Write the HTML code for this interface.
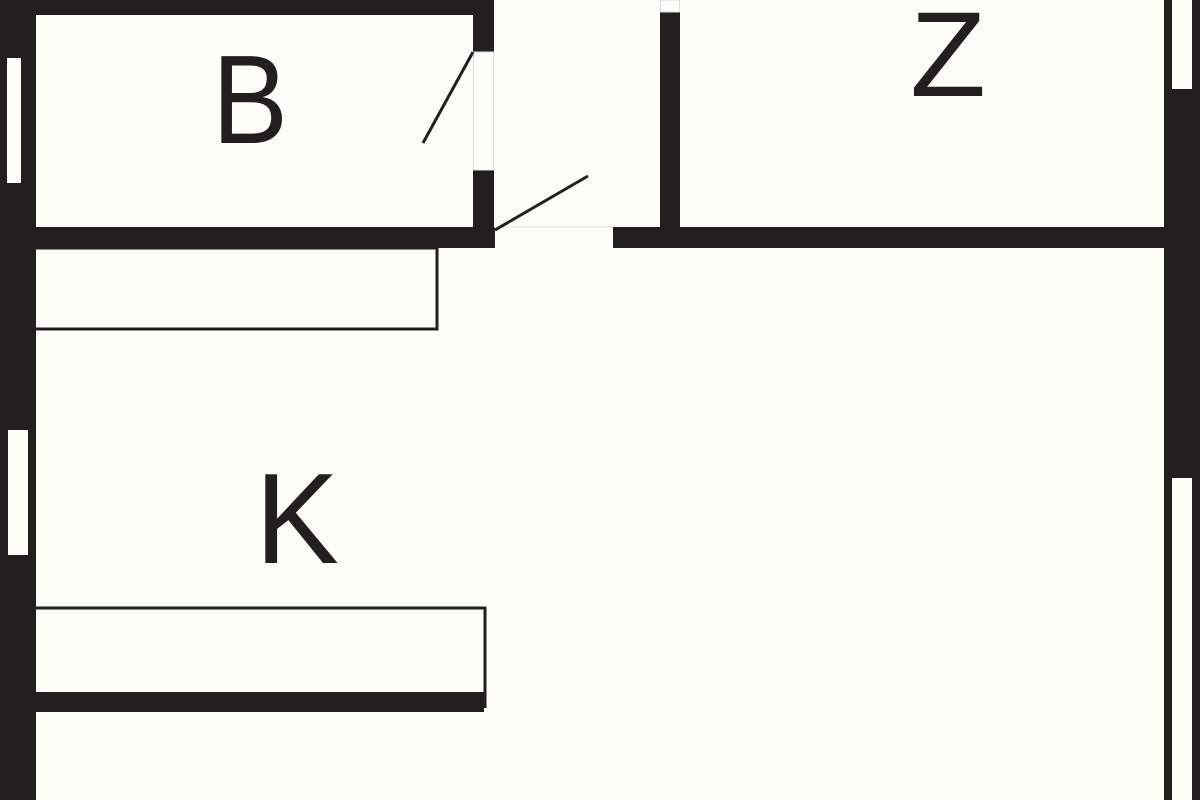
<!DOCTYPE html>
<html><head><meta charset="utf-8"><style>
html,body{margin:0;padding:0;background:#fdfef8;}
svg{display:block}
text{font-family:"Liberation Sans",sans-serif;fill:#231f20}
</style></head><body>
<svg width="1200" height="800" viewBox="0 0 1200 800" xmlns="http://www.w3.org/2000/svg">
<rect width="1200" height="800" fill="#fdfef8"/>
<g fill="#231f20">
<rect x="0" y="0" width="36" height="800"/>
<rect x="0" y="0" width="494" height="15"/>
<rect x="473" y="0" width="21" height="52"/>
<rect x="473" y="170" width="21" height="77"/>
<rect x="36" y="227" width="459" height="21"/>
<rect x="613" y="227" width="552" height="21"/>
<rect x="660" y="12" width="20" height="216"/>
<rect x="1164" y="0" width="36" height="800"/>
<rect x="36" y="692" width="448" height="20"/>
</g>
<g fill="#fdfef8">
<rect x="7" y="58" width="14" height="125"/>
<rect x="8" y="430" width="20" height="125"/>
<rect x="1172" y="0" width="20" height="89"/>
<rect x="1172" y="478" width="20" height="322"/>
</g>
<g fill="none" stroke="#ddd" stroke-width="1">
<rect x="473.5" y="52" width="20" height="118"/>
<line x1="494" y1="227" x2="613" y2="227"/>
<rect x="660.5" y="0" width="19" height="12"/>
</g>
<g fill="none" stroke="#231f20" stroke-width="3">
<polyline points="36,248 437,248 437,329 36,329"/>
<polyline points="36,608 485,608 485,708"/>
</g>
<g stroke="#231f20" stroke-width="3">
<line x1="473" y1="52" x2="423" y2="143"/>
<line x1="495" y1="230" x2="588" y2="176"/>
</g>
<text x="212" y="143" font-size="126" textLength="76" lengthAdjust="spacingAndGlyphs">B</text>
<text x="255" y="563" font-size="129" textLength="84" lengthAdjust="spacingAndGlyphs">K</text>
<text x="910" y="96" font-size="121" textLength="76" lengthAdjust="spacingAndGlyphs">Z</text>
</svg>
</body></html>
